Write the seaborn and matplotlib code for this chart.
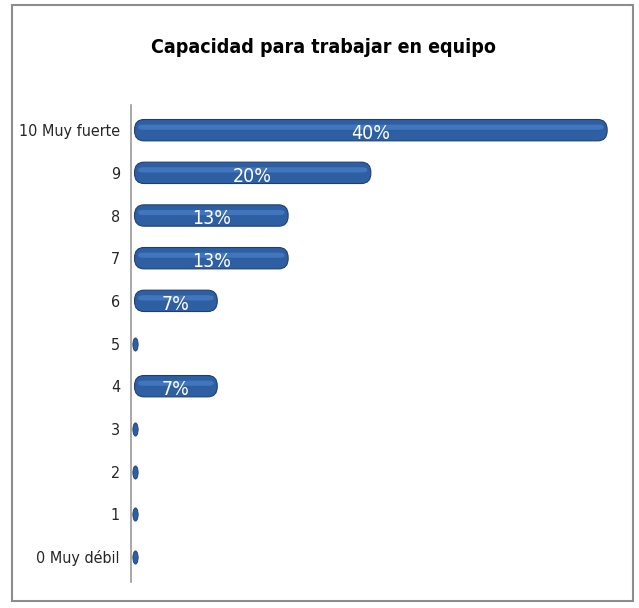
import matplotlib
matplotlib.use("Agg")
import matplotlib.pyplot as plt
import seaborn as sns
import pandas as pd
from matplotlib.patches import Rectangle, FancyBboxPatch
from matplotlib.path import Path
from matplotlib.transforms import Affine2D

# === Data ===
categorias = ["10 Muy fuerte", "9", "8", "7", "6", "5", "4", "3", "2", "1", "0 Muy débil"]
porcentajes = [40, 20, 13, 13, 7, 0, 7, 0, 0, 0, 0]

df = pd.DataFrame({"Nivel": categorias, "Porcentaje": porcentajes})

sns.set_style("white")
plt.rcParams["font.family"] = ["DejaVu Sans"]
plt.rcParams["font.stretch"] = "condensed"

fig = plt.figure(figsize=(6.39, 6.08), dpi=100)
ax = fig.add_axes([0.205, 0.042, 0.747, 0.786])

sns.barplot(data=df, y="Nivel", x="Porcentaje", order=categorias, orient="h",
            color="#2F5FA3", width=0.5, saturation=1, edgecolor="#1F3F6E",
            linewidth=0.8, ax=ax)

# swap the flat bars for rounded (cylinder-like) ones
for bar in list(ax.patches):
    bar.set_visible(False)
    if bar.get_width() > 0:
        ax.add_patch(FancyBboxPatch((bar.get_x(), bar.get_y()), bar.get_width(), bar.get_height(),
                                    boxstyle="round,pad=0,rounding_size=0.8", mutation_aspect=0.3,
                                    facecolor="#2F5FA3", edgecolor="#1F3F6E", linewidth=0.8))
        # lighter band for the shine
        ax.add_patch(FancyBboxPatch((bar.get_x() + 0.3, bar.get_y() + 0.12), bar.get_width() - 0.6, 0.12,
                                    boxstyle="round,pad=0,rounding_size=0.4", mutation_aspect=0.15,
                                    facecolor="#4276BC", edgecolor="none"))

# zero values shown as tiny upright discs at the wall
elipse = Path.unit_circle().transformed(Affine2D().scale(0.4, 1.0))
ceros = df[df["Porcentaje"] == 0]
sns.scatterplot(data=ceros, y="Nivel", x="Porcentaje", marker=elipse, s=90,
                color="#2F5FA3", edgecolor="#1F3F6E", linewidth=0.6, ax=ax, legend=False)

for i, v in enumerate(porcentajes):
    if v > 0:
        ax.text(v / 2, i + 0.08, f"{v}%", color="white", ha="center", va="center", fontsize=14)

ax.set_xlim(-0.3, 40.1)
ax.set_ylim(10.6, -0.6)
ax.set_xlabel("")
ax.set_ylabel("")
ax.set_xticks([])
ax.tick_params(axis="y", length=0, labelsize=11.5, pad=8)
for s in ["top", "right", "bottom"]:
    ax.spines[s].set_visible(False)
ax.spines["left"].set_color("#9A9A9A")
ax.spines["left"].set_linewidth(1.2)

fig.text(0.506, 0.922, "Capacidad para trabajar en equipo", ha="center", va="center",
         fontsize=14, color="black", fontweight="bold")

# outer frame
fig.patches.append(Rectangle((0.019, 0.012), 0.971, 0.98, transform=fig.transFigure,
                             fill=False, edgecolor="#8C8C8C", linewidth=1.5))

fig.savefig("out.png", dpi=100)
